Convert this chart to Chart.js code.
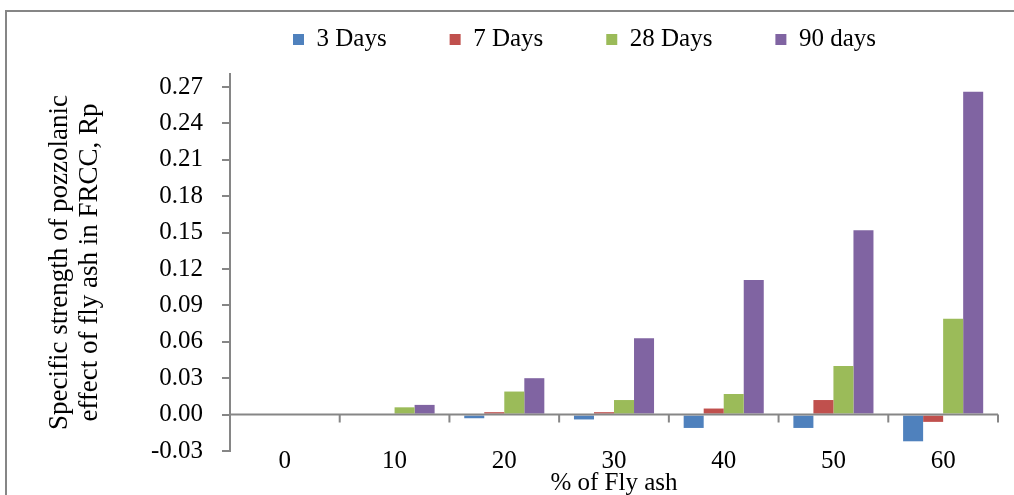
<!DOCTYPE html>
<html>
<head>
<meta charset="utf-8">
<script src="https://cdn.jsdelivr.net/npm/chart.js@4.4.1/dist/chart.umd.min.js"></script>
<style>
  html, body { margin: 0; padding: 0; background: #fff; }
  #wrap { width: 1014px; height: 495px; }
</style>
</head>
<body>
<div id="wrap"><canvas id="myChart" width="1014" height="495"></canvas></div>
<script>
// datos
const categorias = ['0', '10', '20', '30', '40', '50', '60'];
const dias3  = [0, 0, -0.003, -0.004, -0.011, -0.011, -0.022];
const dias7  = [0, 0, 0.002, 0.002, 0.005, 0.012, -0.006];
const dias28 = [0, 0.006, 0.019, 0.012, 0.017, 0.040, 0.079];
const dias90 = [0, 0.008, 0.030, 0.063, 0.111, 0.152, 0.266];
const marcasY = [-0.03, 0, 0.03, 0.06, 0.09, 0.12, 0.15, 0.18, 0.21, 0.24, 0.27];

const fuente = 'Liberation Serif, Times New Roman, serif';
const gris = '#868686';

// marco del grafico y eje en cero con sus marcas
const pluginMarco = {
    id: 'marco',
    afterInit(chart) {
        // un poco mas de aire debajo de la leyenda
        const leyenda = chart.legend;
        const fitOriginal = leyenda.fit;
        leyenda.fit = function () {
            fitOriginal.call(this);
            this.height += 12;
        };
    },
    beforeDraw(chart) {
        const ctx = chart.ctx;
        ctx.save();
        ctx.strokeStyle = gris;
        ctx.lineWidth = 2;
        ctx.beginPath();
        ctx.moveTo(6, 495);
        ctx.lineTo(6, 11);
        ctx.lineTo(1014, 11);
        ctx.stroke();
        ctx.restore();
    },
    afterDatasetsDraw(chart) {
        const ctx = chart.ctx;
        const x = chart.scales.x;
        const y0 = chart.scales.y.getPixelForValue(0);
        ctx.save();
        ctx.strokeStyle = gris;
        ctx.lineWidth = 2;
        ctx.beginPath();
        ctx.moveTo(chart.chartArea.left, y0);
        ctx.lineTo(chart.chartArea.right, y0);
        for (let i = 0; i <= categorias.length; i++) {
            const px = x.getPixelForValue(i - 0.5);
            ctx.moveTo(px, y0);
            ctx.lineTo(px, y0 + 8);
        }
        ctx.stroke();
        ctx.restore();
    }
};

const ctx = document.getElementById('myChart').getContext('2d');
const currentChart = new Chart(ctx, {
    type: 'bar',
    data: {
        labels: categorias,
        datasets: [
            { label: '3 Days', data: dias3, backgroundColor: '#4F81BD' },
            { label: '7 Days', data: dias7, backgroundColor: '#C0504D' },
            { label: '28 Days', data: dias28, backgroundColor: '#9BBB59' },
            { label: '90 days', data: dias90, backgroundColor: '#8064A2' }
        ]
    },
    options: {
        responsive: false,
        animation: false,
        events: [],
        categoryPercentage: 0.73,
        barPercentage: 1,
        layout: { padding: { left: 10, right: 16, top: -36, bottom: 0 } },
        plugins: {
            legend: {
                position: 'top',
                fullSize: false,
                align: 'start',
                labels: {
                    font: { family: fuente, size: 25 },
                    color: '#000',
                    boxWidth: 11,
                    boxHeight: 11,
                    padding: 63
                }
            },
            tooltip: { enabled: false }
        },
        scales: {
            x: {
                grid: { display: false, drawTicks: false },
                border: { display: false },
                ticks: { font: { family: fuente, size: 25 }, color: '#000', padding: -5 },
                title: {
                    display: true,
                    text: '% of Fly ash',
                    font: { family: fuente, size: 25, lineHeight: 1.2 },
                    color: '#000',
                    padding: { top: 0, bottom: -3 }
                },
                afterFit(scale) { scale.height = 44; }
            },
            y: {
                min: -0.03,
                max: 0.2807,
                afterBuildTicks(scale) {
                    scale.ticks = marcasY.map(v => ({ value: v }));
                },
                grid: { drawOnChartArea: false, drawTicks: true, tickLength: 8, color: gris, lineWidth: 2 },
                border: { display: true, color: gris, width: 2 },
                ticks: {
                    font: { family: fuente, size: 25 },
                    color: '#000',
                    padding: 19,
                    callback: v => v.toFixed(2)
                },
                title: {
                    display: true,
                    text: ['Specific strength of pozzolanic', 'effect of fly ash in FRCC, Rp'],
                    font: { family: fuente, size: 27, lineHeight: 1.12 },
                    color: '#000',
                    padding: { top: 35, bottom: 0 }
                },
                afterFit(scale) { scale.width = 220; }
            }
        }
    },
    plugins: [pluginMarco]
});
</script>
</body>
</html>
